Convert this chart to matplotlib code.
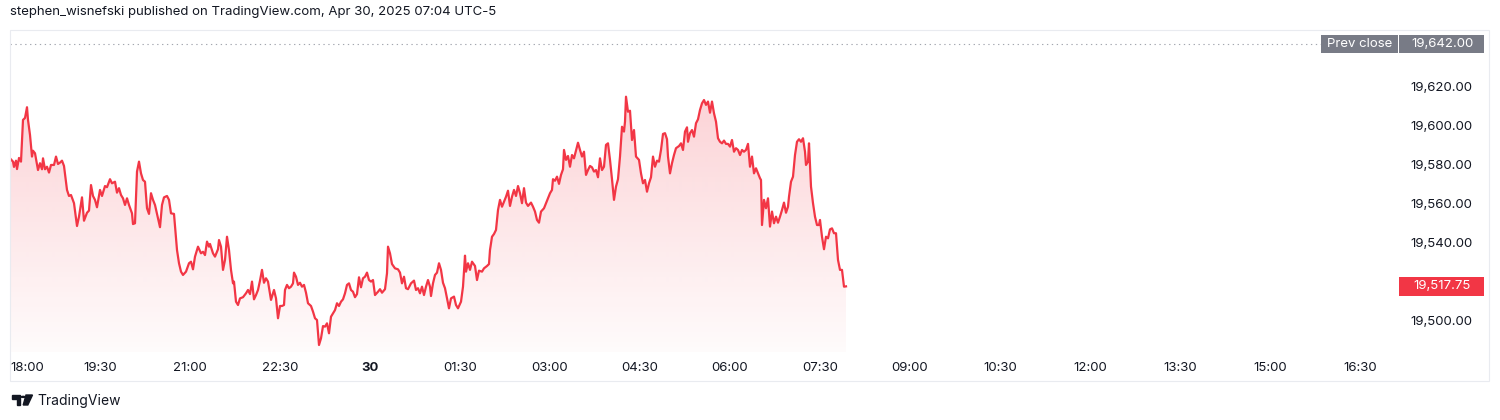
import numpy as np
import matplotlib
matplotlib.use('Agg')
import matplotlib.pyplot as plt
from matplotlib.patches import Polygon, Rectangle, Circle
from matplotlib.colors import to_rgb

plt.rcParams['font.family'] = ['Inter', 'DejaVu Sans']

# minutes after 18:00 (Apr 29) and price
evening_min = [0, 3, 4, 6, 7, 9, 11, 13, 15, 17, 18, 20, 22, 23, 25, 28, 30, 32, 33, 35,
               37, 39, 41, 44, 46, 48, 50, 52, 54, 57, 59, 61, 64, 67, 69, 72, 74, 77, 79, 81,
               83, 85, 87, 90, 92, 95, 97, 100, 102, 105, 107, 109, 111, 113, 115, 117, 119, 122, 123, 125,
               127, 129, 131, 133, 135, 137, 139, 141, 143, 145, 147, 150, 152, 154, 157, 159, 161, 164, 167, 169,
               171, 173, 176, 179, 181, 183, 185, 188, 191, 193, 195, 197, 199, 200, 203, 205, 208, 209]
evening_px = [19583.4, 19581.7, 19579.0, 19582.2, 19577.9, 19583.6, 19581.7, 19603.1, 19604.1, 19609.6,
              19603.1, 19595.4, 19584.3, 19587.3, 19586.0, 19577.4, 19580.9, 19577.8, 19583.4, 19577.8,
              19579.1, 19576.1, 19580.0, 19580.0, 19584.3, 19580.5, 19581.2, 19582.2, 19579.5, 19567.2,
              19564.1, 19564.6, 19560.4, 19548.7, 19553.5, 19563.4, 19551.4, 19555.5, 19556.6, 19569.7,
              19564.1, 19562.1, 19558.3, 19567.2, 19564.1, 19569.2, 19568.6, 19572.7, 19570.6, 19571.4,
              19565.8, 19568.1, 19564.6, 19562.9, 19559.5, 19562.9, 19559.5, 19555.2, 19549.7, 19550.1,
              19576.6, 19581.7, 19575.7, 19572.3, 19571.4, 19557.8, 19554.9, 19565.5, 19562.1, 19559.5,
              19554.9, 19548.1, 19559.5, 19563.4, 19564.1, 19562.1, 19555.2, 19554.9, 19536.4, 19529.6,
              19525.3, 19523.6, 19525.3, 19529.6, 19530.4, 19526.5, 19533.0, 19538.1, 19534.7, 19535.5,
              19533.8, 19540.7, 19538.1, 19539.5, 19534.7, 19533.0, 19536.8, 19541.5]

overnight_min = [211, 213, 215, 217, 219, 221, 223, 224, 226, 228, 230, 233, 236, 238, 240, 242, 244, 246, 248, 250,
                 252, 254, 256, 258, 261, 264, 266, 268, 270, 272, 274, 275, 277, 279, 281, 283, 284, 286, 288, 290,
                 292, 294, 296, 298, 301, 303, 305, 307, 309, 311, 313, 315, 317, 319, 321, 323, 325, 327, 329, 331,
                 333, 335, 337, 339, 341, 343, 345, 347, 349, 351, 353, 355, 357, 359, 361, 363, 365, 368, 370, 372,
                 375, 377, 378, 380, 382, 385, 388, 390, 392, 394, 396, 398, 401, 404, 406, 408, 410, 412, 414, 416,
                 418]
overnight_px = [19538.1, 19526.2, 19531.3, 19543.2, 19536.4, 19526.2, 19519.3, 19520.2, 19509.9, 19508.2,
                19511.6, 19512.2, 19514.2, 19515.9, 19513.8, 19520.2, 19511.1, 19513.3, 19515.9, 19520.7,
                19526.2, 19519.6, 19521.9, 19520.2, 19510.8, 19515.9, 19511.6, 19501.4, 19507.7, 19507.7,
                19508.2, 19515.9, 19518.5, 19516.8, 19517.6, 19519.3, 19524.8, 19522.7, 19518.5, 19519.6,
                19517.6, 19518.5, 19514.5, 19509.1, 19507.7, 19504.8, 19501.4, 19500.5, 19487.7, 19491.1,
                19497.4, 19497.1, 19498.8, 19493.7, 19502.2, 19503.9, 19505.6, 19509.1, 19507.7, 19509.9,
                19511.1, 19514.2, 19518.5, 19519.3, 19515.9, 19515.0, 19512.2, 19513.8, 19522.4, 19517.3,
                19521.9, 19522.7, 19524.8, 19521.0, 19520.2, 19521.0, 19513.3, 19515.0, 19516.3, 19514.5,
                19516.3, 19524.5, 19538.1, 19534.7, 19529.2, 19527.0, 19526.5, 19524.8, 19519.3, 19522.7,
                19516.8, 19516.3, 19519.3, 19520.7, 19515.9, 19516.8, 19514.2, 19517.6, 19513.3, 19517.6,
                19521.0]

early_min = [420, 421, 423, 425, 427, 429, 431, 433, 435, 437, 439, 441, 444, 446, 448, 451, 453, 455, 456, 458,
             460, 462, 465, 467, 469, 472, 474, 477, 479, 480, 482, 484, 486, 488, 490, 492, 494, 496, 498, 500,
             502, 504, 506, 508, 510, 512, 514, 516, 518, 521, 523, 525, 527, 529, 531, 534, 536, 538, 540, 542,
             543, 545, 547, 549, 551, 553, 554, 556, 558, 560, 562, 564, 566, 568, 570, 572, 574, 576, 578, 580,
             582, 584, 586, 588, 590, 592, 594, 596, 598, 600, 602, 604, 606, 608, 610, 612, 614, 615, 616, 618,
             620, 622, 624]
early_px = [19517.6, 19512.8, 19519.3, 19523.6, 19524.8, 19529.6, 19526.2, 19519.6, 19516.8, 19511.6,
            19506.5, 19511.6, 19512.5, 19508.2, 19506.5, 19509.9, 19517.6, 19533.5, 19525.3, 19529.6,
            19526.2, 19530.4, 19528.2, 19521.0, 19525.8, 19525.3, 19527.0, 19528.2, 19529.2, 19536.4,
            19543.2, 19544.6, 19546.7, 19556.9, 19562.1, 19558.6, 19561.2, 19563.7, 19566.8, 19559.0,
            19563.7, 19567.2, 19564.1, 19569.2, 19565.5, 19560.4, 19568.1, 19560.7, 19559.0, 19560.7,
            19558.6, 19556.1, 19551.8, 19550.4, 19556.1, 19557.8, 19560.4, 19562.9, 19565.5, 19567.2,
            19572.7, 19571.9, 19574.0, 19570.3, 19574.9, 19577.8, 19587.7, 19582.6, 19584.6, 19579.1,
            19585.1, 19583.4, 19587.3, 19591.4, 19587.7, 19584.3, 19586.8, 19574.9, 19577.4, 19579.5,
            19578.8, 19576.6, 19577.4, 19573.7, 19583.4, 19577.4, 19579.1, 19590.3, 19591.1, 19582.6,
            19572.7, 19562.1, 19568.9, 19572.7, 19584.3, 19599.6, 19597.1, 19602.2, 19615.0, 19607.3,
            19607.8, 19592.8, 19597.9]

morning_min = [626, 629, 631, 633, 635, 637, 639, 641, 643, 645, 647, 649, 651, 653, 655, 657, 658, 660, 662, 664,
               666, 669, 671, 673, 675, 677, 678, 680, 682, 684, 686, 688, 690, 692, 694, 696, 698, 700, 702, 704,
               706, 708, 710, 712, 714, 716, 718, 720, 722, 724, 726, 728, 730, 732, 734, 736, 738, 740, 742, 744,
               746, 748, 750, 751, 752, 754, 756, 758, 760, 762, 764, 766, 768, 770, 772, 774, 776, 778, 779, 781,
               783, 785, 787, 789, 791, 793, 795, 796, 798, 799, 801, 803, 805, 807, 809, 810, 812, 814, 816, 818,
               820, 822, 824, 826, 828, 830, 832, 834, 836]
morning_px = [19584.3, 19582.6, 19575.7, 19570.6, 19572.3, 19566.3, 19570.6, 19573.7, 19584.3, 19579.1,
              19582.2, 19581.7, 19587.7, 19595.9, 19596.3, 19593.2, 19584.3, 19575.7, 19580.9, 19585.1,
              19588.6, 19589.7, 19591.1, 19587.7, 19597.1, 19599.3, 19591.9, 19596.3, 19597.9, 19594.5,
              19601.4, 19603.4, 19608.2, 19611.6, 19613.3, 19610.8, 19612.5, 19606.8, 19612.5, 19606.5,
              19602.2, 19593.7, 19591.9, 19591.1, 19592.5, 19590.8, 19590.8, 19589.4, 19592.8, 19586.8,
              19588.6, 19587.7, 19585.1, 19587.7, 19586.8, 19587.7, 19590.8, 19579.1, 19584.3, 19575.7,
              19578.3, 19575.7, 19573.2, 19572.3, 19549.2, 19562.1, 19557.8, 19562.9, 19548.4, 19556.1,
              19550.1, 19553.5, 19550.4, 19553.5, 19556.9, 19560.7, 19555.5, 19558.6, 19563.7, 19571.4,
              19574.0, 19585.1, 19591.9, 19593.2, 19591.9, 19593.7, 19586.8, 19580.0, 19581.7, 19591.1,
              19568.9, 19560.4, 19553.5, 19549.2, 19549.2, 19551.8, 19543.2, 19536.8, 19543.2, 19542.4,
              19547.0, 19547.5, 19545.0, 19545.0, 19531.3, 19526.2, 19526.2, 19517.6, 19517.75]

prev_close = 19642.00
y_ticks = [19500, 19520, 19540, 19560, 19580, 19600, 19620]
x_labels = ['18:00', '19:30', '21:00', '22:30', '30', '01:30', '03:00', '04:30',
            '06:00', '07:30', '09:00', '10:30', '12:00', '13:30', '15:00', '16:30']

minutes = np.array(evening_min + overnight_min + early_min + morning_min, dtype=float)
prices = np.array(evening_px + overnight_px + early_px + morning_px)
last_price = prices[-1]

red = '#F23645'
ink = '#131722'
W, H = 1500, 420


def fx(px):
    return px / W


def fy(py):
    return 1 - py / H


fig = plt.figure(figsize=(W / 100, H / 100), dpi=100)
fig.patch.set_facecolor('white')

# pane (pixels from top-left)
L, R, T, B = 10, 1395, 30, 352
ax = fig.add_axes([fx(L), fy(B), (R - L) / W, (B - T) / H])
ymin, ymax = 19484.1, 19649.2

# gradient area under the line
grad = np.zeros((256, 1, 4))
grad[..., :3] = to_rgb(red)
grad[:, 0, 3] = np.linspace(0.02, 0.22, 256)
im = ax.imshow(grad, extent=[minutes[0], minutes[-1], ymin, prices.max()],
               origin='lower', aspect='auto', zorder=1, interpolation='bilinear')
verts = np.column_stack([np.r_[minutes[0], minutes, minutes[-1]],
                         np.r_[ymin, prices, ymin]])
clip = Polygon(verts, closed=True, transform=ax.transData,
               facecolor='none', edgecolor='none')
ax.add_patch(clip)
im.set_clip_path(clip)

ax.plot(minutes, prices, color=red, lw=1.6, zorder=3, solid_joinstyle='round')

# previous close
ax.axhline(prev_close, color='#A3A6AF', lw=0.8, ls=(0, (1.2, 3.2)), zorder=2)

ax.set_xlim(0, 1385)
ax.set_ylim(ymin, ymax)
for s in ax.spines.values():
    s.set_visible(False)

ax.set_xticks(np.arange(len(x_labels)) * 90)
ax.set_xticklabels(x_labels)
ax.tick_params(axis='x', length=0, pad=7, labelsize=9.5, labelcolor=ink)
xl = ax.get_xticklabels()
xl[0].set_ha('left')
xl[0].set_x(1.5)
xl[4].set_fontweight('bold')

ax.yaxis.tick_right()
ax.set_yticks(y_ticks)
ax.set_yticklabels([f'{v:,.2f}' for v in y_ticks])
ax.tick_params(axis='y', length=0, pad=11, labelsize=9.5, labelcolor=ink)

# outer frame
fig.add_artist(Rectangle((fx(10), fy(381)), (1489 - 10) / W, (381 - 30) / H,
                         transform=fig.transFigure, fill=False,
                         edgecolor='#E9EBF0', lw=0.8, zorder=5))


def value_py(v):
    # pixel row (from top) of a price
    return H - ax.transData.transform((0, v))[1]


def label_box(x0, x1, yc, color, text, h=18.5):
    fig.add_artist(Rectangle((fx(x0), fy(yc + h / 2)), (x1 - x0) / W, h / H,
                             transform=fig.transFigure, facecolor=color,
                             edgecolor='none', zorder=6))
    fig.text(fx((x0 + x1) / 2 + 1), fy(yc), text, color='white', fontsize=9.5,
             ha='center', va='center', zorder=7)


pc_y = value_py(prev_close)
label_box(1320.5, 1397.5, pc_y, '#787B86', 'Prev close')
label_box(1399, 1483.5, pc_y, '#787B86', f'{prev_close:,.2f}')
label_box(1399, 1484, value_py(last_price), red, f'{last_price:,.2f}')

# header and footer
fig.text(fx(10), fy(12), 'stephen_wisnefski published on TradingView.com, Apr 30, 2025 07:04 UTC-5',
         fontsize=9.5, color=ink, ha='left', va='center')

logo = [Polygon([(fx(12), fy(395)), (fx(20), fy(395)), (fx(20), fy(405)),
                 (fx(16.5), fy(405)), (fx(16.5), fy(398.5)), (fx(12), fy(398.5))],
                closed=True, transform=fig.transFigure, color=ink),
        Circle((fx(23.2), fy(396.9)), 1.9 / W, transform=fig.transFigure, color=ink),
        Polygon([(fx(26), fy(395)), (fx(32.5), fy(395)), (fx(27.8), fy(405)),
                 (fx(23.2), fy(405))],
                closed=True, transform=fig.transFigure, color=ink)]
for p in logo:
    fig.add_artist(p)
fig.text(fx(37), fy(401), 'TradingView', fontsize=10, color=ink,
         ha='left', va='center')

fig.savefig('out.png', dpi=100, facecolor='white')
